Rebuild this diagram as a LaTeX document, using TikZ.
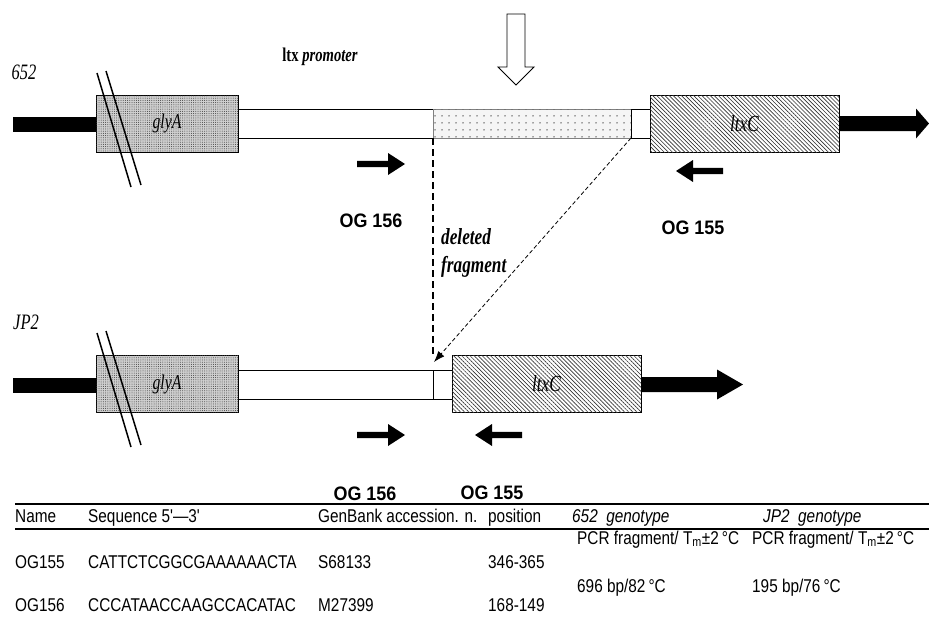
\documentclass[tikz,border=0pt]{standalone}
\usepackage{fontspec}
\setmainfont{Liberation Serif}
\newfontfamily\tserif[FakeStretch=0.75]{Liberation Serif}
\newfontfamily\tsans[FakeStretch=0.83]{Liberation Sans}
\newfontfamily\bsans[FakeStretch=0.92]{Liberation Sans}
\usetikzlibrary{patterns.meta,arrows.meta}
\newcommand\bigarrow[4]{\fill (#1,#2-7.5) -- (#3,#2-7.5) -- (#3,#2-15) -- (#4,#2) -- (#3,#2+15) -- (#3,#2+7.5) -- (#1,#2+7.5) -- cycle;}
\newcommand\primer[4]{\fill (#1,#4-3.2) -- (#2,#4-3.2) -- (#2,#4-11) -- (#3,#4) -- (#2,#4+11) -- (#2,#4+3.2) -- (#1,#4+3.2) -- cycle;}
\begin{document}
\begin{tikzpicture}[x=1pt,y=-1pt,
  box/.style={draw=black, line width=0.8pt, inner sep=0pt, outer sep=0pt},
  glybox/.style={box, minimum width=142pt, minimum height=57pt, fill=gray!38,
     postaction={pattern={Dots[distance=2.2pt,radius=0.5pt]}, pattern color=black!75}},
  ltxbox/.style={box, minimum width=189pt, minimum height=57pt, fill=white,
     postaction={pattern={Lines[angle=-45,distance=2.9pt,line width=0.65pt]}, pattern color=black!80}},
  wbox/.style={box, minimum height=29pt, fill=white},
  dotbox/.style={box, draw=gray, minimum height=29pt, fill=gray!8,
     postaction={pattern={Dots[distance=6.5pt,radius=0.8pt]}, pattern color=black!70}},
  genetxt/.style={font=\fontsize{21}{22}\tserif\itshape},
  strain/.style={font=\fontsize{22}{24}\tserif\itshape, anchor=base},
  oglab/.style={font=\fontsize{19.5}{22}\bsans\bfseries, anchor=base},
  deltxt/.style={font=\fontsize{23}{26}\tserif\bfseries\itshape, anchor=base west, inner sep=0pt},
  tab/.style={font=\fontsize{18.5}{20}\tsans, anchor=base west, inner sep=0pt},
  rule/.style={line width=1.2pt},
  slash/.style={line width=1.5pt},
  thickdash/.style={line width=1.6pt, dash pattern=on 7pt off 4pt},
  thindash/.style={line width=0.8pt, dash pattern=on 4pt off 2.5pt}
]
\useasboundingbox (0,0) rectangle (929,624);

% ---------- top row (652) ----------
\node[strain] (s652) at (24,79) {652};
\node[font=\fontsize{19.5}{22}\tserif\bfseries, anchor=base] (prom) at (320,61) {ltx \itshape promoter};
\fill (13,117) rectangle (97,132);
\node[glybox] (gly1) at (167,123.5) {};
\node[genetxt] at (gly1) {glyA};
\node[wbox, minimum width=195pt] (pro1) at (335.5,123.5) {};
\node[dotbox, minimum width=198pt] (dot1) at (532,123.5) {};
\node[wbox, minimum width=19pt] (sm1) at (640.5,123.5) {};
\node[ltxbox] (ltx1) at (744.5,123.5) {};
\node[genetxt, font=\fontsize{23}{24}\tserif\itshape] at (ltx1) {ltxC};
\bigarrow{839}{123.5}{916}{929}
\draw[slash] (97,73) -- (131,187);
\draw[slash] (106,71) -- (141,185);
\draw[line width=0.9pt, fill=white] (507,14) -- (525,14) -- (525,67) -- (534,67) -- (516,85) -- (498,67) -- (507,67) -- cycle;
\primer{357}{388}{405}{164}
\primer{723}{693}{676}{171}
\node[oglab] (og156a) at (371,227) {OG 156};
\node[oglab] (og155a) at (693,234) {OG 155};
\node[deltxt] (del1) at (441,244) {deleted};
\node[deltxt] (del2) at (441,272) {fragment};

% ---------- bottom row (JP2) ----------
\node[strain] (sjp2) at (26,329) {JP2};
\fill (13,378) rectangle (97,393);
\node[glybox] (gly2) at (167,384) {};
\node[genetxt] at (gly2) {glyA};
\node[wbox, minimum width=195pt] (pro2) at (335.5,384.5) {};
\node[wbox, minimum width=19pt] (sm2) at (442.5,384.5) {};
\node[ltxbox] (ltx2) at (546.5,384) {};
\node[genetxt, font=\fontsize{23}{24}\tserif\itshape] at (ltx2) {ltxC};
\bigarrow{641}{384.5}{717}{743}
\draw[slash] (97,333) -- (131,447);
\draw[slash] (106,331) -- (141,445);
\primer{357}{388}{405}{435}
\primer{522}{492}{475}{435}
\node[oglab] (og156b) at (365,500) {OG 156};
\node[oglab] (og155b) at (492,499) {OG 155};

% ---------- deletion connectors ----------
\coordinate (dv) at (433,357);
\coordinate (dtip) at (434,362);
\draw[thickdash] (pro1.south east) -- (dv);
\draw[thindash, -{Latex[length=11pt,width=8pt]}] (dot1.south east) -- (dtip);

% ---------- table ----------
\draw[rule] (15,504) -- (929,504);
\draw[rule] (15,529) -- (929,529);
\node[tab] at (15,522) {Name};
\node[tab] at (88,522) {Sequence 5'—3'};
\node[tab] at (318,522) {GenBank accession. n.};
\node[tab] at (488,522) {position};
\node[tab] at (572,522) {\itshape 652\ \ genotype};
\node[tab] at (763,522) {\itshape JP2\ \ genotype};
\node[tab] at (577,544) {PCR fragment/ T\textsubscript{m}±2\,°C};
\node[tab] at (752,544) {PCR fragment/ T\textsubscript{m}±2\,°C};
\node[tab] at (15,568) {OG155};
\node[tab] at (88,568) {CATTCTCGGCGAAAAAACTA};
\node[tab] at (318,568) {S68133};
\node[tab] at (488,568) {346-365};
\node[tab] at (577,592) {696 bp/82\,°C};
\node[tab] at (752,592) {195 bp/76\,°C};
\node[tab] at (15,611) {OG156};
\node[tab] at (88,611) {CCCATAACCAAGCCACATAC};
\node[tab] at (318,611) {M27399};
\node[tab] at (488,611) {168-149};
\end{tikzpicture}
\end{document}
